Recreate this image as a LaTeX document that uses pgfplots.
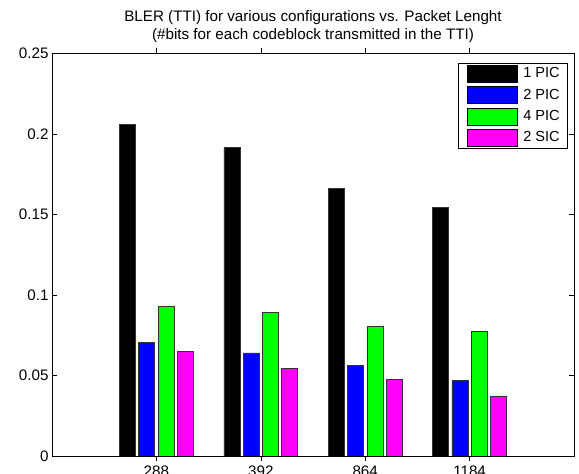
\documentclass[border=0pt]{standalone}
\usepackage{fontspec}
\setmainfont{Liberation Sans}
\usepackage{pgfplots}
\pgfplotsset{compat=1.18}
\usepackage{pgfplotstable}

\definecolor{mblue}{rgb}{0,0,1}
\definecolor{mgreen}{rgb}{0,1,0}
\definecolor{mmagenta}{rgb}{1,0,1}

\pgfplotstableread{
x   pic1    pic2    pic4    sic2
1   0.2060  0.0708  0.0930  0.0648
2   0.1917  0.0640  0.0894  0.0545
3   0.1663  0.0565  0.0803  0.0476
4   0.1542  0.0470  0.0774  0.0373
}\bler

\begin{document}
\begin{tikzpicture}
\begin{axis}[
  at={(0,0)}, anchor=south west,
  scale only axis,
  width=522bp, height=402.5bp,
  xmin=0, xmax=5,
  ymin=0, ymax=0.25,
  xtick={1,2,3,4},
  xticklabels={288,392,864,1184},
  ytick={0,0.05,0.1,0.15,0.2,0.25},
  yticklabels={0,0.05,0.1,0.15,0.2,0.25},
  tick align=inside,
  major tick length=5bp,
  axis line style={line width=0.8bp},
  every tick/.style={black, line width=0.6bp},
  ticklabel style={font=\fontsize{15.2bp}{17bp}\selectfont},
  /pgf/number format/assume math mode=true,
  xticklabel style={yshift=-1.5bp},
  title={BLER (TTI) for various configurations vs. Packet Lenght\\(\#bits for each codeblock transmitted in the TTI)},
  title style={align=center, font=\fontsize{15.2bp}{17.8bp}\selectfont,
    at={(0.5,1)}, anchor=south, inner sep=0pt, yshift=5bp},
  ybar=3.3bp,
  bar width=16bp,
  legend image code/.code={
    \path[draw=none, fill=none] (-2bp,0) rectangle (55bp,0.1bp);
    \draw[#1, draw=black, line width=0.6bp] (0bp,-8.5bp) rectangle (50bp,8.5bp);},
  legend style={at={(1,1)}, anchor=north east, xshift=-6.3bp, yshift=-9.2bp,
    draw=black, line width=0.8bp, inner xsep=7bp, inner ysep=2bp, row sep=3.8bp,
    font=\fontsize{14.6bp}{17bp}\selectfont,
    nodes={inner xsep=0.5bp, inner ysep=2bp, text height=10.5bp, text depth=3bp}},
  legend cell align=left,
]
\addplot[fill=black, draw=black!80, line width=0.6bp] table[x=x, y=pic1] {\bler};
\addplot[fill=mblue, draw=black!80, line width=0.6bp] table[x=x, y=pic2] {\bler};
\addplot[fill=mgreen, draw=black!80, line width=0.6bp] table[x=x, y=pic4] {\bler};
\addplot[fill=mmagenta, draw=black!80, line width=0.6bp] table[x=x, y=sic2] {\bler};
\legend{1 PIC, 2 PIC, 4 PIC, 2 SIC}
\end{axis}
\pgfresetboundingbox
\path[use as bounding box] (-52bp,-18bp) rectangle (527bp,456bp);
\end{tikzpicture}
\end{document}
